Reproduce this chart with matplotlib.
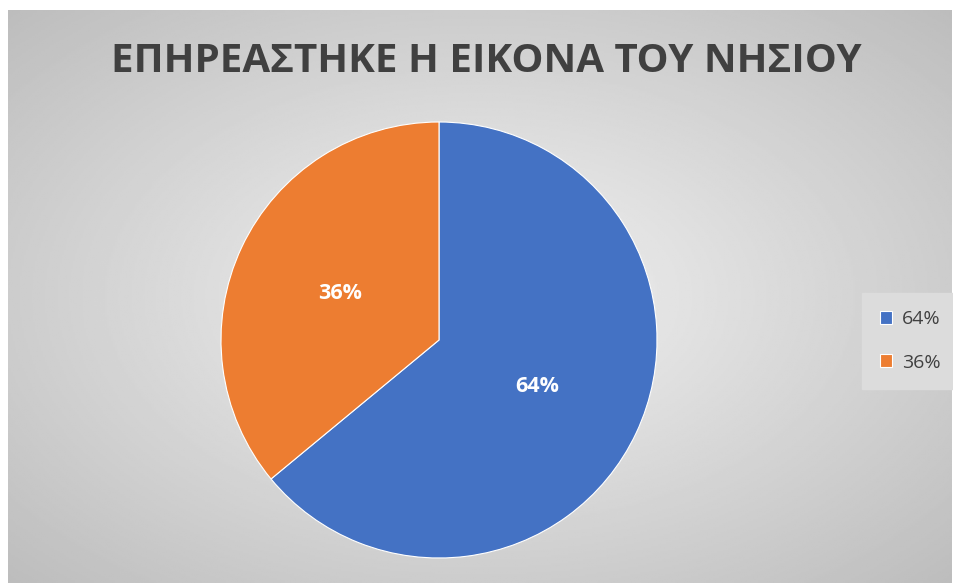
import numpy as np
import matplotlib.pyplot as plt

title = "ΕΠΗΡΕΑΣΤΗΚΕ Η ΕΙΚΟΝΑ ΤΟΥ ΝΗΣΙΟΥ"
labels = ["64%", "36%"]
values = [64, 36]
colors = ["#4472c4", "#ed7d31"]

W, H = 954, 583
fig = plt.figure(figsize=(W / 100, H / 100), dpi=100)
fig.patch.set_facecolor("white")

# chart area with radial grey gradient
bg = fig.add_axes([8 / W, 0, (952 - 8) / W, (583 - 10) / H])
yy, xx = np.mgrid[-1:1:300j, -1:1:500j]
r = np.sqrt(xx ** 2 + yy ** 2) / np.sqrt(2)
img = 0.95 - 0.21 * np.clip(r, 0, 1)
bg.imshow(img, cmap="gray", vmin=0, vmax=1, aspect="auto", extent=[0, 1, 0, 1])
bg.set_axis_off()

fig.text(486 / W, 1 - 62 / H, title, ha="center", va="center",
         fontsize=29, fontweight="bold", color="#404040", family="Open Sans")

cx, cy, rad = 439, 340, 218
ax = fig.add_axes([(cx - rad) / W, 1 - (cy + rad) / H, 2 * rad / W, 2 * rad / H])
wedges, texts = ax.pie(values, colors=colors, startangle=90, counterclock=False,
                       wedgeprops=dict(edgecolor="white", linewidth=0.8))
for w, lab in zip(wedges, labels):
    th = np.deg2rad((w.theta1 + w.theta2) / 2)
    ax.text(0.5 * np.cos(th), 0.5 * np.sin(th), lab, ha="center", va="center",
            fontsize=15.5, fontweight="bold", color="white", family="Open Sans")
ax.set_xlim(-1, 1)
ax.set_ylim(-1, 1)
ax.set_aspect("equal")

leg = fig.legend(wedges, labels, loc="center", bbox_to_anchor=(910 / W, 1 - 341 / H),
                 frameon=True, fancybox=False, handlelength=0.65, handleheight=0.65,
                 labelspacing=1.3, handletextpad=0.5, borderpad=0.9, borderaxespad=0,
                 prop=dict(family="Open Sans", size=14))
leg.get_frame().set_facecolor("#dcdcdc")
leg.get_frame().set_edgecolor("#dcdcdc")
leg.get_frame().set_alpha(1)
for t in leg.get_texts():
    t.set_color("#404040")

fig.savefig("out.png", dpi=100)
